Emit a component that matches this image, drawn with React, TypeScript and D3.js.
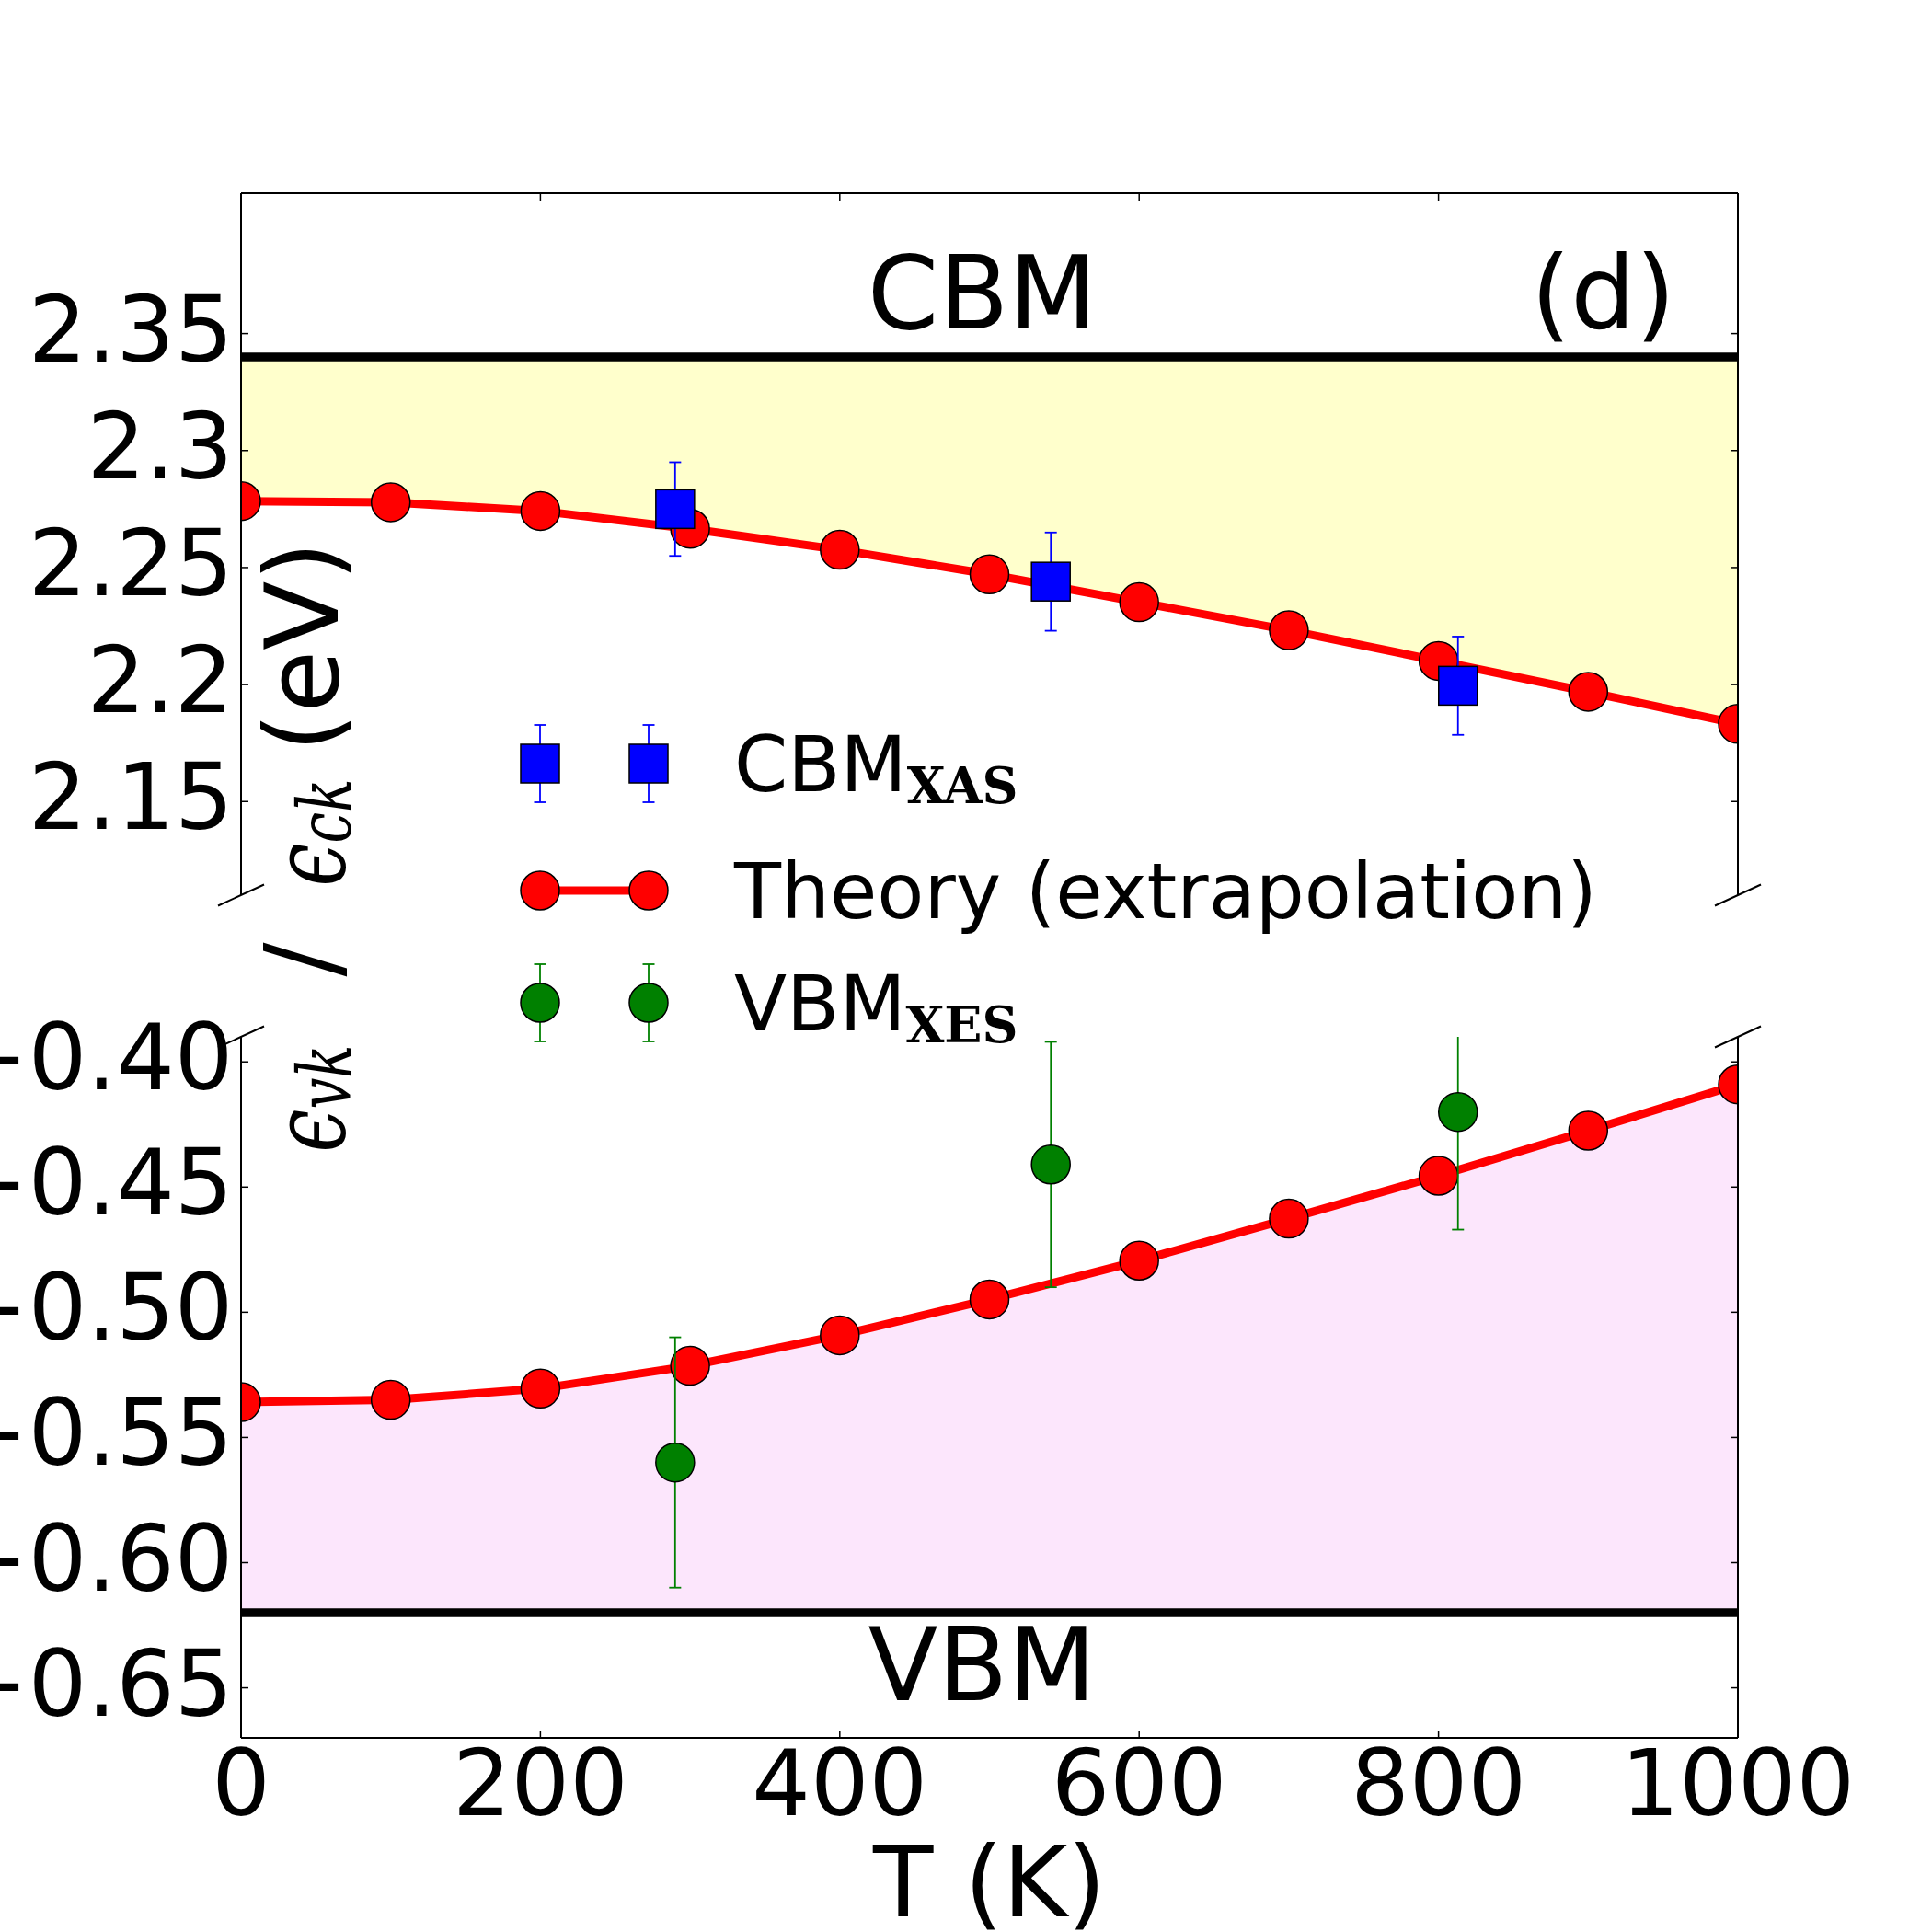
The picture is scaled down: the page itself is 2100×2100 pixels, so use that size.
import React from "react";
import * as d3 from "d3";

// temperature grid of the theory curves (K)
const temps = [0, 100, 200, 300, 400, 500, 600, 700, 800, 900, 1000];
// extrapolated band edges (eV)
const cbmTheory = [2.2784, 2.2779, 2.2742, 2.2666, 2.2576, 2.2471, 2.2352, 2.2232, 2.2101, 2.1969, 2.1832];
const vbmTheory = [-0.5359, -0.535, -0.5305, -0.5214, -0.5092, -0.4949, -0.4794, -0.4626, -0.4455, -0.4275, -0.409];

// measured band edges with error bars
const xasTemps = [290, 541, 813];
const xasEnergy = [2.275, 2.244, 2.1995];
const xasError = [0.02, 0.021, 0.021];
const xesTemps = [290, 541, 813];
const xesEnergy = [-0.56, -0.441, -0.42];
const xesError = [0.05, 0.049, 0.047];

// reference levels
const cbmLevel = 2.34;
const vbmLevel = -0.62;

const xTicks = [0, 200, 400, 600, 800, 1000];
const upperTicks = [2.15, 2.2, 2.25, 2.3, 2.35];
const upperTickLabels = ["2.15", "2.2", "2.25", "2.3", "2.35"];
const lowerTicks = [-0.65, -0.6, -0.55, -0.5, -0.45, -0.4];
const lowerTickLabels = ["\u22120.65", "\u22120.60", "\u22120.55", "\u22120.50", "\u22120.45", "\u22120.40"];

const FONT = "DejaVu Sans";
const SERIF = "DejaVu Serif";
const W = 2100;
const H = 2100;
const left = 262;
const right = 1889;
const upperTop = 210;
const upperBottom = 973;
const lowerTop = 1127;
const lowerBottom = 1889;

const x = d3.scaleLinear().domain([0, 1000]).range([left, right]);
const yUpper = d3.scaleLinear().domain([2.11, 2.41]).range([upperBottom, upperTop]);
const yLower = d3.scaleLinear().domain([-0.67, -0.39]).range([lowerBottom, lowerTop]);

const R = 21; // marker radius
const TICK = 8;

function Circle({ cx, cy, fill }) {
  return <circle cx={cx} cy={cy} r={R} fill={fill} stroke="#000" strokeWidth={1.5} />;
}

function Square({ cx, cy, fill }) {
  return <rect x={cx - R} y={cy - R} width={2 * R} height={2 * R} fill={fill} stroke="#000" strokeWidth={1.5} />;
}

function ErrorBar({ cx, y0, y1, color }) {
  return (
    <g stroke={color} strokeWidth={1.8}>
      <line x1={cx} x2={cx} y1={y0} y2={y1} />
      <line x1={cx - 6.5} x2={cx + 6.5} y1={y0} y2={y0} />
      <line x1={cx - 6.5} x2={cx + 6.5} y1={y1} y2={y1} />
    </g>
  );
}

function Panel({ id, y, top, bottom, theory, level, fill, expT, expE, expErr, color, Marker, ticks, tickLabels, xSide }) {
  const pts = temps.map((t, i) => ({ t, e: theory[i] }));
  const area = d3
    .area()
    .x((d) => x(d.t))
    .y0(y(level))
    .y1((d) => y(d.e))(pts);
  const line = d3
    .line()
    .x((d) => x(d.t))
    .y((d) => y(d.e))(pts);
  const xEdge = xSide === "top" ? top : bottom;
  const xDir = xSide === "top" ? 1 : -1;

  return (
    <g>
      <clipPath id={id}>
        <rect x={left} y={top} width={right - left} height={bottom - top} />
      </clipPath>
      <g clipPath={`url(#${id})`}>
        <path d={area} fill={fill} fillOpacity={0.2} stroke="none" />
        <line x1={left} x2={right} y1={y(level)} y2={y(level)} stroke="#000" strokeWidth={9.5} />
        <path d={line} fill="none" stroke="#ff0000" strokeWidth={9} />
        {pts.map((d) => (
          <Circle key={d.t} cx={x(d.t)} cy={y(d.e)} fill="#ff0000" />
        ))}
        {expT.map((t, i) => (
          <ErrorBar key={t} cx={x(t)} y0={y(expE[i] + expErr[i])} y1={y(expE[i] - expErr[i])} color={color} />
        ))}
        {expT.map((t, i) => (
          <Marker key={t} cx={x(t)} cy={y(expE[i])} fill={color} />
        ))}
      </g>
      {/* spines */}
      <g stroke="#000" strokeWidth={2} fill="none">
        <line x1={left} x2={left} y1={top} y2={bottom} />
        <line x1={right} x2={right} y1={top} y2={bottom} />
        <line x1={left} x2={right} y1={xEdge} y2={xEdge} />
      </g>
      {/* ticks */}
      <g stroke="#000" strokeWidth={1.5}>
        {ticks.map((v) => (
          <g key={v}>
            <line x1={left} x2={left + TICK} y1={y(v)} y2={y(v)} />
            <line x1={right} x2={right - TICK} y1={y(v)} y2={y(v)} />
          </g>
        ))}
        {xTicks.map((t) => (
          <line key={t} x1={x(t)} x2={x(t)} y1={xEdge} y2={xEdge + xDir * TICK} />
        ))}
      </g>
      <g fontFamily={FONT} fontSize={100} textAnchor="end">
        {ticks.map((v, i) => (
          <text key={v} x={left - 8.5} y={y(v) + 30}>
            {tickLabels[i]}
          </text>
        ))}
      </g>
    </g>
  );
}

// diagonal break marks at the inner corners of the two panels
function BreakMark({ cx, cy }) {
  return <line x1={cx - 25} y1={cy + 11.5} x2={cx + 25} y2={cy - 11.5} stroke="#000" strokeWidth={2} />;
}

function Legend() {
  const hx = [587, 705];
  const tx = 798;
  const rows = [830, 968, 1090];
  return (
    <g fontFamily={FONT} fontSize={83.5}>
      {hx.map((cx) => (
        <g key={"xas" + cx}>
          <ErrorBar cx={cx} y0={rows[0] - 42} y1={rows[0] + 42} color="#0000ff" />
          <Square cx={cx} cy={rows[0]} fill="#0000ff" />
        </g>
      ))}
      <text x={tx} y={rows[0] + 30}>
        CBM
        <tspan fontFamily={SERIF} fontWeight="bold" fontSize={54} dy={13}>
          XAS
        </tspan>
      </text>

      <line x1={hx[0]} x2={hx[1]} y1={rows[1]} y2={rows[1]} stroke="#ff0000" strokeWidth={9} />
      {hx.map((cx) => (
        <Circle key={"th" + cx} cx={cx} cy={rows[1]} fill="#ff0000" />
      ))}
      <text x={tx} y={rows[1] + 30}>Theory (extrapolation)</text>

      {hx.map((cx) => (
        <g key={"xes" + cx}>
          <ErrorBar cx={cx} y0={rows[2] - 42} y1={rows[2] + 42} color="#008000" />
          <Circle cx={cx} cy={rows[2]} fill="#008000" />
        </g>
      ))}
      <text x={tx} y={rows[2] + 30}>
        VBM
        <tspan fontFamily={SERIF} fontWeight="bold" fontSize={54} dy={13}>
          XES
        </tspan>
      </text>
    </g>
  );
}

// rotated y label, drawn piece by piece along the left edge
function YLabel() {
  const eps = (cy, sub) => (
    <text
      transform={`translate(374,${cy}) rotate(-90)`}
      textAnchor="middle"
      fontFamily={SERIF}
      fontStyle="italic"
      textLength={117}
      lengthAdjust="spacingAndGlyphs"
    >
      <tspan fontSize={112}>ϵ</tspan>
      <tspan fontSize={80} dy={7}>
        {sub}
      </tspan>
    </text>
  );
  return (
    <g>
      {eps(1194, "vk")}
      <text transform="translate(367,1043) rotate(-90)" textAnchor="middle" fontFamily={FONT} fontSize={110}>
        /
      </text>
      {eps(905, "ck")}
      <text transform="translate(367,703) rotate(-90)" textAnchor="middle" fontFamily={FONT} fontSize={110}>
        (eV)
      </text>
    </g>
  );
}

export default function App() {
  return (
    <svg
      width={W}
      height={H}
      viewBox={`0 0 ${W} ${H}`}
      style={{ position: "absolute", left: 0, top: 0, background: "#fff" }}
    >
      <rect width={W} height={H} fill="#fff" />
      <Panel
        id="clip-upper"
        y={yUpper}
        top={upperTop}
        bottom={upperBottom}
        theory={cbmTheory}
        level={cbmLevel}
        fill="yellow"
        expT={xasTemps}
        expE={xasEnergy}
        expErr={xasError}
        color="#0000ff"
        Marker={Square}
        ticks={upperTicks}
        tickLabels={upperTickLabels}
        xSide="top"
      />
      <Panel
        id="clip-lower"
        y={yLower}
        top={lowerTop}
        bottom={lowerBottom}
        theory={vbmTheory}
        level={vbmLevel}
        fill="violet"
        expT={xesTemps}
        expE={xesEnergy}
        expErr={xesError}
        color="#008000"
        Marker={Circle}
        ticks={lowerTicks}
        tickLabels={lowerTickLabels}
        xSide="bottom"
      />
      <BreakMark cx={left} cy={upperBottom} />
      <BreakMark cx={right} cy={upperBottom} />
      <BreakMark cx={left} cy={lowerTop} />
      <BreakMark cx={right} cy={lowerTop} />

      {/* x tick labels and axis title */}
      <g fontFamily={FONT} fontSize={100} textAnchor="middle">
        {xTicks.map((t) => (
          <text key={t} x={x(t)} y={lowerBottom + 84}>
            {t}
          </text>
        ))}
      </g>
      <text x={x(500)} y={2083} fontFamily={FONT} fontSize={107} textAnchor="middle">
        T (K)
      </text>

      {/* band labels */}
      <g fontFamily={FONT} fontSize={111} textAnchor="middle">
        <text x={x(495)} y={357}>CBM</text>
        <text x={x(910)} y={357}>(d)</text>
        <text x={x(495)} y={1848}>VBM</text>
      </g>

      <YLabel />
      <Legend />
    </svg>
  );
}
